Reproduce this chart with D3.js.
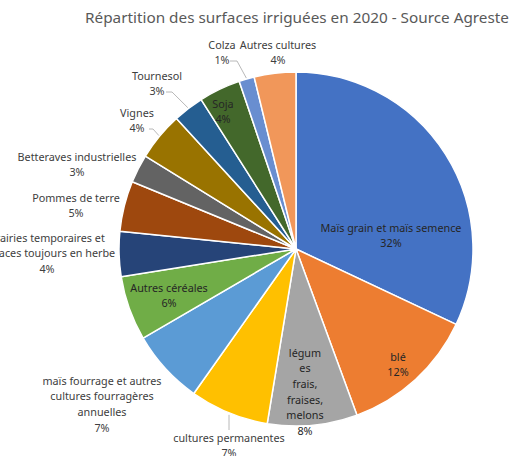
<!DOCTYPE html>
<html lang="fr">
<head>
<meta charset="UTF-8">
<title>Surfaces irriguées 2020</title>
<style>
  body { margin: 0; background: #fff; }
  svg { display: block; }
  text { font-family: "Noto Sans", sans-serif; }
  .lbl { font-size: 10.8px; fill: #404040; }
  .inlbl { font-size: 10.8px; fill: #262626; }
  .title { font-size: 15.3px; fill: #595959; }
  .leader { fill: none; stroke: #a6a6a6; stroke-width: 0.8; }
</style>
</head>
<body>
<svg id="chart"></svg>
<script src="https://cdn.jsdelivr.net/npm/d3@7"></script>
<script>
// données (part en % de la surface irriguée)
var categories = [
  "Maïs grain et maïs semence", "blé", "légumes frais, fraises, melons",
  "cultures permanentes", "maïs fourrage et autres cultures fourragères annuelles",
  "Autres céréales", "Prairies temporaires et surfaces toujours en herbe",
  "Pommes de terre", "Betteraves industrielles", "Vignes", "Tournesol",
  "Soja", "Colza", "Autres cultures"
];
var values = [32.0, 12.4, 8.2, 7.2, 6.8, 5.9, 4.1, 4.6, 2.6, 4.4, 2.8, 3.8, 1.4, 3.8];
var colors = ["#4472C4", "#ED7D31", "#A5A5A5", "#FFC000", "#5B9BD5", "#70AD47",
  "#264478", "#9E480E", "#636363", "#997300", "#255E91", "#43682B", "#698ED0", "#F1975A"];

var w = 518, h = 456;
var cx = 296, cy = 249, radius = 177;

// mise en page des étiquettes : lignes de texte, position, filet de rappel
var labelLayout = [
  {lines: ["Maïs grain et maïs semence"], x: 391, y: 228, inside: true},
  {lines: ["blé"], x: 398, y: 357, inside: true},
  {lines: ["légum", "es", "frais,", "fraises,", "melons"], x: 305, y: 353, inside: true},
  {lines: ["cultures permanentes"], x: 229, y: 438, leader: [[229, 430]]},
  {lines: ["maïs fourrage et autres", "cultures fourragères", "annuelles"], x: 102, y: 381},
  {lines: ["Autres céréales"], x: 169, y: 288, inside: true},
  {lines: ["Prairies temporaires et", "surfaces toujours en herbe"], x: 47, y: 238},
  {lines: ["Pommes de terre"], x: 76, y: 198},
  {lines: ["Betteraves industrielles"], x: 77, y: 157},
  {lines: ["Vignes"], x: 137, y: 113, leader: [[149, 129], [153, 129]]},
  {lines: ["Tournesol"], x: 157, y: 76, leader: [[166, 92], [172, 92]]},
  {lines: ["Soja"], x: 223, y: 104, inside: true},
  {lines: ["Colza"], x: 222, y: 45, leader: [[230, 61], [237, 61]]},
  {lines: ["Autres cultures"], x: 278, y: 45}
];

var svg = d3.select("#chart").attr("width", w).attr("height", h);

svg.append("text").attr("class", "title")
  .attr("x", 297).attr("y", 23).attr("text-anchor", "middle")
  .text("Répartition des surfaces irriguées en 2020 - Source Agreste");

var total = d3.sum(values);
var pie = d3.pie().sort(null).value(function(d) { return d; });
var arcs = pie(values);
var arc = d3.arc().innerRadius(0).outerRadius(radius);

var g = svg.append("g").attr("transform", "translate(" + cx + "," + cy + ")");
g.selectAll("path").data(arcs).enter().append("path")
  .attr("d", arc)
  .attr("fill", function(d, i) { return colors[i]; })
  .attr("stroke", "#fff")
  .attr("stroke-width", 1.5)
  .attr("stroke-linejoin", "round");

// filets de rappel vers le bord de la part
arcs.forEach(function(a, i) {
  var lay = labelLayout[i];
  if (!lay.leader) return;
  var mid = (a.startAngle + a.endAngle) / 2;
  var ex = cx + Math.sin(mid) * (radius + 1);
  var ey = cy - Math.cos(mid) * (radius + 1);
  if (i === 3) { ex = lay.leader[0][0]; ey = cy + Math.sqrt(radius * radius - Math.pow(ex - cx, 2)) + 2; }
  var pts = lay.leader.concat([[ex, ey]]);
  svg.append("path").attr("class", "leader").attr("d", d3.line()(pts));
});

// étiquettes
var lineH = 15.6;
arcs.forEach(function(a, i) {
  var lay = labelLayout[i];
  var pct = Math.round(values[i] / total * 100) + "%";
  var lines = lay.lines.concat([pct]);
  var t = svg.append("text")
    .attr("class", lay.inside ? "inlbl" : "lbl")
    .attr("text-anchor", "middle");
  lines.forEach(function(s, k) {
    t.append("tspan").attr("x", lay.x).attr("y", lay.y + 3.8 + k * lineH).text(s);
  });
});
</script>
</body>
</html>
